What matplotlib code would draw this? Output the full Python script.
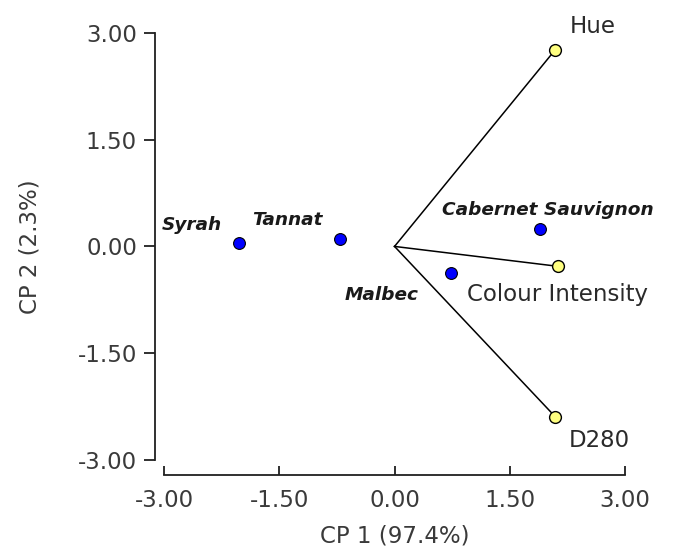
import matplotlib
matplotlib.use('Agg')
import matplotlib.pyplot as plt

# scores (samples)
wines = ['Syrah', 'Tannat', 'Cabernet Sauvignon', 'Malbec']
wine_x = [-2.03, -0.71, 1.89, 0.74]
wine_y = [0.05, 0.11, 0.24, -0.37]

# loadings (variables)
variables = ['Hue', 'Colour Intensity', 'D280']
var_x = [2.09, 2.13, 2.09]
var_y = [2.76, -0.28, -2.39]

ticks = [-3.00, -1.50, 0.00, 1.50, 3.00]

# label offsets in data units (text position = point + offset)
wine_lbl = [(-1.00, 0.25), (-1.14, 0.26), (-1.27, 0.27), (-1.39, -0.31)]
var_lbl = [(0.19, 0.33), (-1.19, -0.39), (0.18, -0.34)]

plt.rcParams['font.family'] = ['DejaVu Sans']

fig = plt.figure(figsize=(6.75, 5.47), dpi=100)
ax = fig.add_axes([0.243, 0.159, 0.683, 0.781])

# vectors from origin
for vx, vy in zip(var_x, var_y):
    ax.plot([0, vx], [0, vy], color='black', lw=1.1, zorder=1)
ax.plot(var_x, var_y, 'o', ms=8.5, mfc='#ffff80', mec='black', mew=1.0, zorder=3)
ax.plot(wine_x, wine_y, 'o', ms=8.5, mfc='#0000ff', mec='black', mew=0.8, zorder=3)

for name, x, y, (dx, dy) in zip(wines, wine_x, wine_y, wine_lbl):
    ax.text(x + dx, y + dy, name, fontsize=13.3, fontweight='bold', fontstyle='italic',
            color='#1a1a1a', ha='left', va='center', clip_on=False)
for name, x, y, (dx, dy) in zip(variables, var_x, var_y, var_lbl):
    ax.text(x + dx, y + dy, name, fontsize=16.5, color='#2a2a2a',
            ha='left', va='center', clip_on=False)

ax.set_xlim(-3, 3)
ax.set_ylim(-3, 3)
ax.set_xticks(ticks)
ax.set_yticks(ticks)
ax.set_xticklabels(['%.2f' % t for t in ticks])
ax.set_yticklabels(['%.2f' % t for t in ticks])

for s in ['top', 'right']:
    ax.spines[s].set_visible(False)
ax.spines['left'].set_position(('outward', 6.5))
ax.spines['bottom'].set_position(('outward', 10.8))
ax.spines['left'].set_bounds(-3, 3)
ax.spines['bottom'].set_bounds(-3, 3)
for s in ['left', 'bottom']:
    ax.spines[s].set_linewidth(1.3)
    ax.spines[s].set_color('#202020')

ax.tick_params(axis='y', direction='out', length=8, width=1.3, pad=5,
               labelsize=16.5, labelcolor='#3a3a3a', color='#202020')
ax.tick_params(axis='x', direction='in', length=6.5, width=1.3, pad=10,
               labelsize=16.5, labelcolor='#3a3a3a', color='#202020')

ax.set_xlabel('CP 1 (97.4%)', fontsize=16.5, color='#3a3a3a', labelpad=9)
ax.set_ylabel('CP 2 (2.3%)', fontsize=16.5, color='#3a3a3a', labelpad=26)

fig.savefig('out.png', dpi=100)
